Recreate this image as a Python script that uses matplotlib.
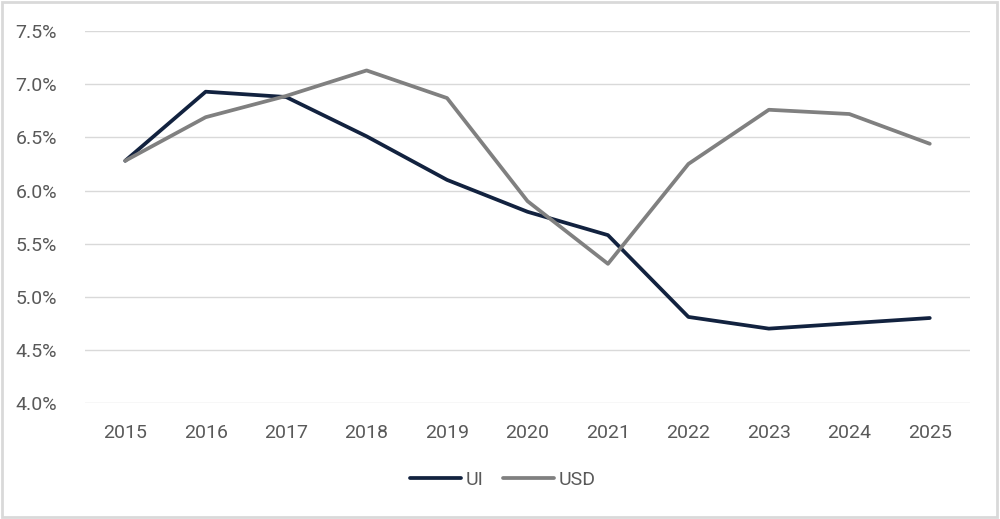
import matplotlib
matplotlib.use("Agg")
import matplotlib.pyplot as plt
from matplotlib.patches import Rectangle
from matplotlib.ticker import FuncFormatter, MultipleLocator

years = ["2015", "2016", "2017", "2018", "2019", "2020", "2021", "2022", "2023", "2024", "2025"]
ui = [6.28, 6.93, 6.88, 6.51, 6.10, 5.80, 5.58, 4.81, 4.70, 4.75, 4.80]
usd = [6.28, 6.69, 6.89, 7.13, 6.87, 5.90, 5.31, 6.25, 6.76, 6.72, 6.44]

plt.rcParams['font.family'] = ['Roboto', 'DejaVu Sans']

fig = plt.figure(figsize=(10, 5.19), dpi=100)
ax = fig.add_axes([0.085, 0.2235, 0.885, 0.7165])

x = list(range(len(years)))
ax.plot(x, ui, color="#12223f", lw=2.7, label="UI", solid_capstyle="round", solid_joinstyle="round")
ax.plot(x, usd, color="#808080", lw=2.7, label="USD", solid_capstyle="round", solid_joinstyle="round")

ax.set_xlim(-0.5, len(years) - 0.5)
ax.set_ylim(4.0, 7.5)
ax.yaxis.set_major_locator(MultipleLocator(0.5))
ax.yaxis.set_major_formatter(FuncFormatter(lambda v, p: f"{v:.1f}%"))
ax.set_xticks(x)
ax.set_xticklabels(years)
ax.grid(axis="y", color="#d9d9d9", lw=1)
ax.set_axisbelow(True)
for s in ax.spines.values():
    s.set_visible(False)
ax.tick_params(length=0, labelsize=14, labelcolor="#595959")
ax.tick_params(axis="x", pad=15)
ax.tick_params(axis="y", pad=20)

leg = fig.legend(loc="center", bbox_to_anchor=(0.503, 0.075), ncol=2, frameon=False,
                 fontsize=14, handlelength=2.6, handletextpad=0.25, columnspacing=1.0)
for t in leg.get_texts():
    t.set_color("#595959")

fig.patches.append(Rectangle((0.002, 0.003), 0.995, 0.993, transform=fig.transFigure,
                             fill=False, edgecolor="#d9d9d9", lw=2))

fig.savefig("out.png", dpi=100)
